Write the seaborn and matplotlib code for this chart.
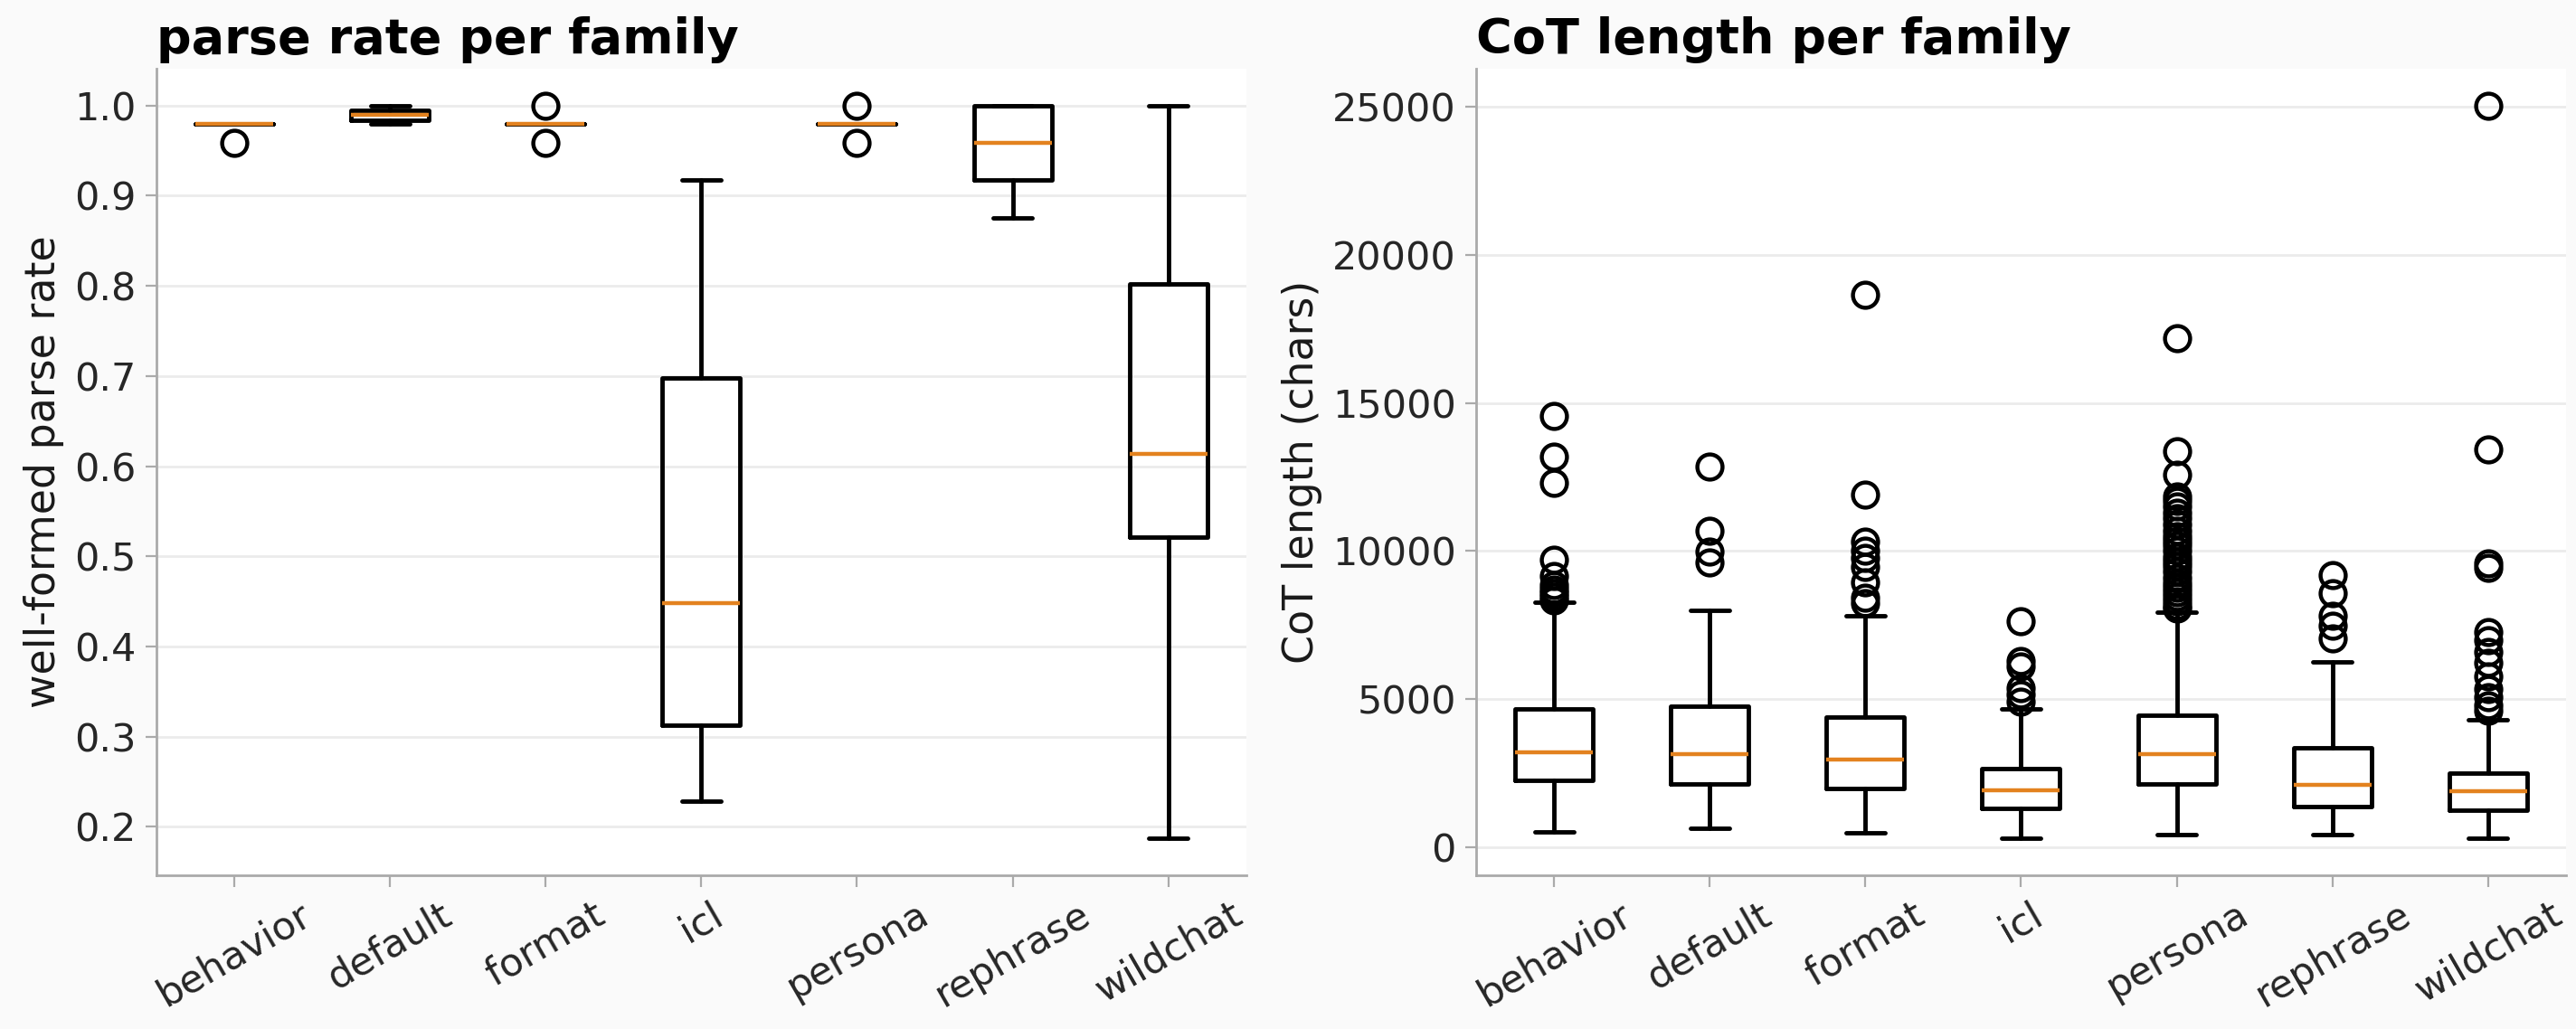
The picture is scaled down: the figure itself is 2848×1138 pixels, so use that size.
import numpy as np
import pandas as pd
import seaborn as sns
import matplotlib.pyplot as plt

families = ["behavior", "default", "format", "icl", "persona", "rephrase", "wildchat"]

# well-formed parse rate, box stats per family
pr_lo  = [0.98, 0.980, 0.98, 0.229, 0.98, 0.875, 0.187]
pr_q1  = [0.98, 0.984, 0.98, 0.313, 0.98, 0.917, 0.521]
pr_med = [0.98, 0.990, 0.98, 0.448, 0.98, 0.958, 0.614]
pr_q3  = [0.98, 0.995, 0.98, 0.698, 0.98, 1.000, 0.802]
pr_hi  = [0.98, 1.000, 0.98, 0.917, 0.98, 1.000, 1.000]
pr_fliers = [
    [0.958],
    [],
    [1.0, 0.958],
    [],
    [1.0, 0.958],
    [],
    [],
]

# CoT length (chars), box stats per family
cot_lo  = [520, 630, 480, 290, 420, 420, 290]
cot_q1  = [2250, 2130, 1980, 1310, 2130, 1360, 1240]
cot_med = [3210, 3140, 2970, 1910, 3140, 2110, 1880]
cot_q3  = [4680, 4750, 4410, 2660, 4460, 3360, 2500]
cot_hi  = [8280, 8000, 7800, 4660, 7950, 6260, 4290]
cot_fliers = [
    [14550, 13180, 12310, 9710, 9150, 8850, 8700, 8590, 8450, 8340],
    [12840, 10700, 9970, 9610],
    [18660, 11920, 10320, 10020, 9760, 9450, 8940, 8430, 8230],
    [7640, 6290, 6090, 5380, 5170, 4920],
    [17200, 13380, 12590, 11850, 11700, 11500, 11300, 11100, 10900, 10700,
     10500, 10350, 10200, 10000, 9800, 9650, 9500, 9300, 9100, 8900,
     8750, 8600, 8450, 8300, 8150, 8050],
    [9200, 8590, 7820, 7470, 7060],
    [25050, 13430, 9580, 9440, 7260, 6990, 6580, 6230, 5760, 5350, 5070, 4800, 4600],
]


def make_stats(lo, q1, med, q3, hi, fl):
    return [dict(label=f, whislo=lo[i], q1=q1[i], med=med[i], q3=q3[i],
                 whishi=hi[i], fliers=fl[i]) for i, f in enumerate(families)]


sns.set_style("whitegrid")
plt.rcParams['font.family'] = ['DejaVu Sans']

fig, axes = plt.subplots(1, 2, figsize=(14.24, 5.69), dpi=200)
fig.patch.set_facecolor('#fafafa')
fig.subplots_adjust(left=0.0607, right=0.9961, top=0.9332, bottom=0.1494, wspace=0.211)

line = dict(color='black', linewidth=1.75)
props = dict(boxprops=line, whiskerprops=line, capprops=line,
             medianprops=dict(color='#e3821f', linewidth=1.6),
             flierprops=dict(marker='o', markersize=10, markerfacecolor='none',
                             markeredgecolor='black', markeredgewidth=1.6))

panels = [
    (axes[0], make_stats(pr_lo, pr_q1, pr_med, pr_q3, pr_hi, pr_fliers),
     "parse rate per family", "well-formed parse rate"),
    (axes[1], make_stats(cot_lo, cot_q1, cot_med, cot_q3, cot_hi, cot_fliers),
     "CoT length per family", "CoT length (chars)"),
]

for ax, stats, title, ylab in panels:
    ax.set_facecolor('white')
    ax.bxp(stats, **props)
    ax.set_title(title, loc='left', fontsize=19.5, fontweight='bold', color='black')
    ax.set_ylabel(ylab, fontsize=16.5, color='#1a1a1a')
    ax.xaxis.grid(False)
    ax.yaxis.grid(True, color='#ebebeb', linewidth=1.0)
    ax.set_axisbelow(True)
    for s in ['top', 'right']:
        ax.spines[s].set_visible(False)
    for s in ['left', 'bottom']:
        ax.spines[s].set_color('#aaaaaa')
        ax.spines[s].set_linewidth(1.0)
    ax.tick_params(axis='both', which='major', bottom=True, left=True, length=4.5,
                   width=0.8, color='#aaaaaa', labelsize=15.5, labelcolor='#262626')
    plt.setp(ax.get_xticklabels(), rotation=30)

fig.savefig("out.png", dpi=200, facecolor=fig.get_facecolor())
